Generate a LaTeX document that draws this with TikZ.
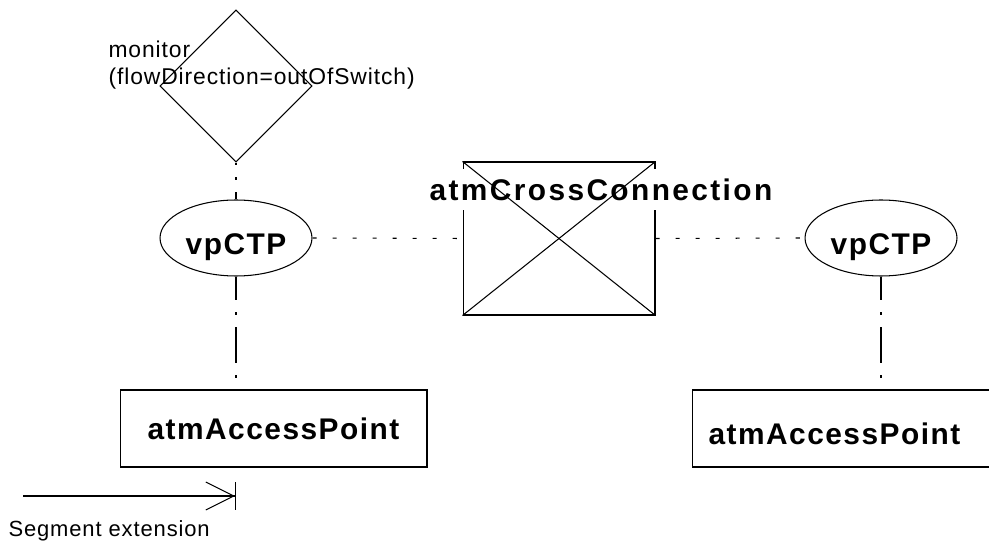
\documentclass[tikz,border=0pt]{standalone}
\usepackage{fontspec}
\setmainfont{Liberation Sans}
\newfontfamily\boxfont[LetterSpace=5]{Liberation Sans}
\newfontfamily\notefont[LetterSpace=4]{Liberation Sans}
\usetikzlibrary{arrows.meta,shapes.geometric}

\begin{document}
\begin{tikzpicture}[x=0.02cm,y=-0.02cm,line width=0.6pt,
 big/.style={font=\boxfont\bfseries\fontsize{17}{20}\selectfont},
 note/.style={font=\notefont\fontsize{12.5}{15.9}\selectfont,inner sep=0pt},
 ctp/.style={draw,ellipse,big,inner sep=0pt,minimum width=3.04cm,minimum height=1.52cm,text height=0.67cm,text depth=0pt},
 apbox/.style={draw,minimum height=1.54cm},
 link/.style={dash pattern=on 2.3pt off 9.1pt},
 dashdot/.style={dash pattern=on 20.4pt off 6.8pt on 1.7pt off 6.8pt,dash phase=6.8pt}]
\useasboundingbox (0,0) rectangle (989,546);
\clip (0,0) rectangle (989,546);
% monitor
\node[draw,diamond,minimum width=3.04cm,minimum height=3.04cm,inner sep=0pt] (mon) at (236,86) {};
\node[note,font=\notefont\fontsize{13}{15.9}\selectfont,align=left,anchor=base west] (montxt) at (108,85) {monitor\\(flowDirection=outOfSwitch)};
% termination points
\node[ctp] (lctp) at (236,238) {vpCTP};
\node[ctp] (rctp) at (881,238) {vpCTP};
% cross connection
\node[draw,minimum width=3.84cm,minimum height=3.06cm,inner sep=0pt] (xc) at (559,238.5) {};
\node[big,font=\boxfont\bfseries\fontsize{17}{20}\selectfont\addfontfeature{LetterSpace=8},fill=white,inner sep=0pt,minimum height=0.82cm] (xctxt) at (601,189.5) {atmCrossConnection};
\draw (xc.north west) -- (xc.south east);
\draw (xc.south west) -- (xc.north east);
% access points
\node[apbox,big,minimum width=6.14cm] (lap) at (273.5,428.5) {atmAccessPoint};
\node[apbox,minimum width=6.06cm] (rap) at (843.5,428.5) {};
\node[big,anchor=west,inner sep=0pt] (raptxt) at (708,434) {atmAccessPoint};
% connectors
\draw[link] (lctp.east) -- (xc.west);
\draw[link] (xc.east) -- (rctp.west);
\draw[dashdot,dash phase=18.7pt] (mon.south) -- (lctp.north);
\draw[dashdot] (lctp.south) -- (lctp.south |- lap.north);
\draw[dashdot] (rctp.south) -- (rctp.south |- rap.north);
% segment extension
\coordinate (segstart) at (23,496);
\coordinate (segend) at (236,496);
\draw[-{Straight Barb[length=0.56cm,width=0.56cm]Bar[width=0.56cm]}] (segstart) -- (segend);
\node[note,anchor=west] (segtxt) at (8,531) {Segment extension};
\end{tikzpicture}
\end{document}
